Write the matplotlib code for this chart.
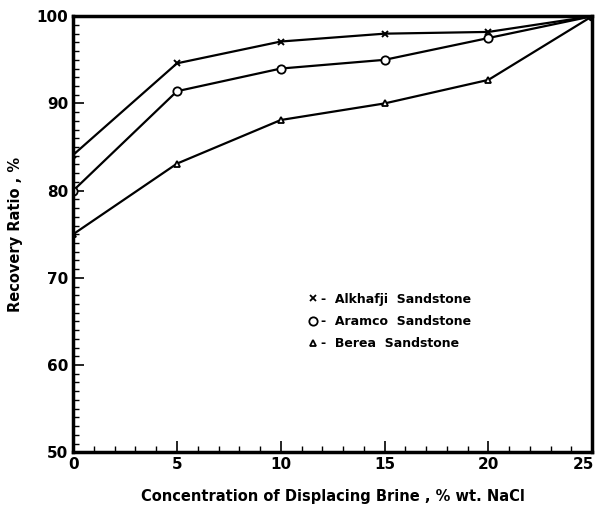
import numpy as np
import matplotlib.pyplot as plt
import matplotlib.transforms as mtransforms
from matplotlib.ticker import MultipleLocator

# values
conc = [0, 5, 10, 15, 20, 25]  # % wt. NaCl
alkhafji = [84.1, 94.6, 97.1, 98.0, 98.2, 100.0]
aramco = [80.0, 91.4, 94.0, 95.0, 97.5, 100.0]
berea = [75.0, 83.1, 88.1, 90.0, 92.7, 100.0]

fig = plt.figure(figsize=(6, 5.07), dpi=100)
ax = fig.add_axes([0.122, 0.108, 0.865, 0.860])

ax.plot(conc, alkhafji, color="black", lw=1.6, marker="x", ms=4.5, mew=1.4)
ax.plot(conc, aramco, color="black", lw=1.6, marker="o", ms=6, mfc="white", mew=1.3)
ax.plot(conc, berea, color="black", lw=1.6, marker="^", ms=5, mfc="white", mew=1.3)

ax.set_xlim(0, 25)
ax.set_ylim(50, 100)
ax.set_xticks(conc)
ax.xaxis.set_minor_locator(MultipleLocator(1))
ax.yaxis.set_major_locator(MultipleLocator(10))
ax.yaxis.set_minor_locator(MultipleLocator(1))
ax.tick_params(which="major", direction="in", length=8, width=1.2, labelsize=11)
ax.tick_params(which="minor", direction="in", length=4, width=1.0)
for lab in ax.get_xticklabels() + ax.get_yticklabels():
    lab.set_fontweight("bold")
# keep the last x label inside the figure
last = ax.get_xticklabels()[-1]
last.set_transform(last.get_transform() +
                   mtransforms.ScaledTranslation(-6 / 72, 0, fig.dpi_scale_trans))
for s in ax.spines.values():
    s.set_linewidth(2.5)

ax.set_xlabel("Concentration of Displacing Brine , % wt. NaCl", fontsize=10.5,
              fontweight="bold", labelpad=12)
ax.set_ylabel("Recovery Ratio , %", fontsize=10.5, fontweight="bold", labelpad=10)

# legend as in the original: marker then "- name"
h1, = ax.plot([], [], ls="none", color="black", marker="x", ms=5, mew=1.3)
h2, = ax.plot([], [], ls="none", color="black", marker="o", ms=6, mfc="white", mew=1.3)
h3, = ax.plot([], [], ls="none", color="black", marker="^", ms=5, mfc="white", mew=1.3)
leg = ax.legend([h1, h2, h3],
                ["-  Alkhafji  Sandstone", "-  Aramco  Sandstone", "-  Berea  Sandstone"],
                loc="center left", bbox_to_anchor=(0.43, 0.30), frameon=False,
                handlelength=0.8, handletextpad=0.3, labelspacing=0.75,
                prop={"weight": "bold", "size": 9})

fig.savefig("out.png", dpi=100)
